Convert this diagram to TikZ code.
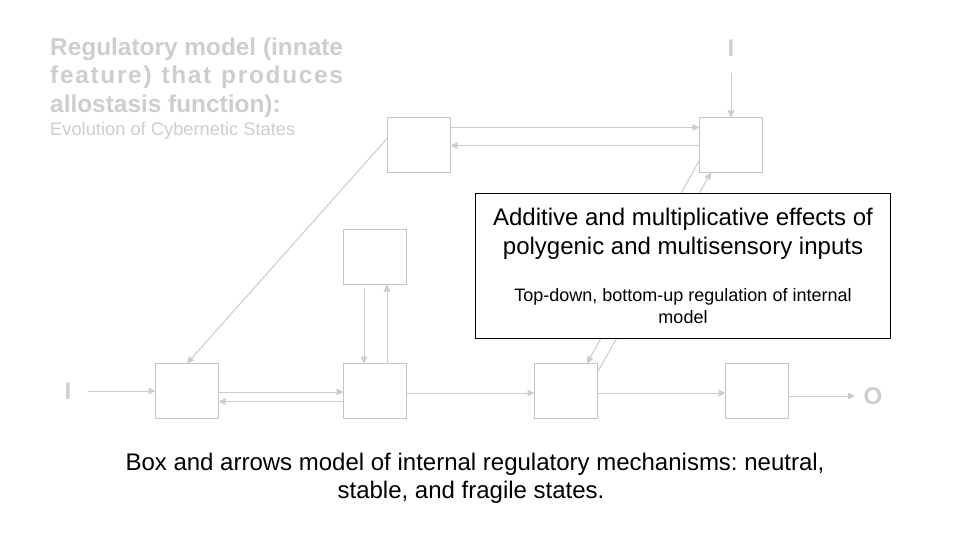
\documentclass[tikz,border=0pt]{standalone}
\usepackage{fontspec}
\setmainfont{Liberation Sans}
\usetikzlibrary{arrows.meta,calc}
\definecolor{boxgray}{RGB}{196,196,196}
\definecolor{linegray}{RGB}{204,204,204}
\definecolor{txtgray}{RGB}{206,206,206}
\newlength{\titlew}
\frenchspacing
\begin{document}
\begin{tikzpicture}[x=1pt,y=-1pt,
  blk/.style={draw=boxgray,line width=1pt,minimum width=63pt,minimum height=55pt,inner sep=0pt,outer sep=0pt},
  arr/.style={draw=linegray,line width=1pt,-{Triangle[length=7pt,width=6.5pt]}},
  ttl/.style={anchor=base west,inner sep=0pt,text=txtgray,font=\bfseries\fontsize{24.4}{28}\selectfont},
  sub/.style={anchor=base west,inner sep=0pt,text=txtgray,font=\fontsize{18.3}{21}\selectfont},
  io/.style={anchor=base,inner sep=0pt,text=txtgray,font=\bfseries\fontsize{24}{28}\selectfont},
  big/.style={anchor=base,inner sep=0pt,text=black,font=\fontsize{24}{28}\selectfont},
  small/.style={anchor=base,inner sep=0pt,text=black,font=\fontsize{18}{21}\selectfont}]
\useasboundingbox (0,0) rectangle (960,540);
\fill[white] (0,0) rectangle (960,540);

% title
\node[ttl] (t1) at (50,55.5) {\settowidth{\titlew}{Regulatory model (innate}Regulatory model (innate};
\node[ttl] (t2) at (50,84) {\settowidth{\titlew}{Regulatory model (innate}\makebox[\titlew][s]{\addfontfeatures{LetterSpace=7}feature) that produces}};
\node[ttl] (t3) at (50,112.5) {allostasis function):};
\node[sub] (t4) at (50,136) {Evolution of Cybernetic States};

% boxes
\node[blk] (tl) at (419,145) {};
\node[blk] (tr) at (731,145) {};
\node[blk] (mu) at (375,257) {};
\node[blk] (b1) at (187,391) {};
\node[blk] (b2) at (375,391) {};
\node[blk] (b3) at (566,391) {};
\node[blk] (b4) at (757,391) {};

% inputs / output
\node[io] (inl) at (68,399.5) {I};
\node[io] (intop) at (731,56.5) {I};
\node[io] (outr) at (873,404.5) {O};
\coordinate (inls) at (88,391);
\coordinate (intops) at (731,72.7);
\coordinate (outre) at (855,396);

% connectors
\draw[arr] (inls) -- (inls -| b1.west);
\draw[arr] ($(b1.east)+(0,1)$) -- ($(b2.west)+(0,1)$);
\draw[arr] ($(b2.west)+(0,10.5)$) -- ($(b1.east)+(0,10.5)$);
\draw[arr] ($(b2.east)+(0,2)$) -- ($(b3.west)+(0,2)$);
\draw[arr] ($(b3.east)+(0,2)$) -- ($(b4.west)+(0,2)$);
\draw[arr] ($(b4.east)+(0,5)$) -- (outre);
\draw[arr] ($(mu.south)+(-11,3)$) -- ($(b2.north)+(-11,0)$);
\draw[arr] ($(b2.north)+(12,0)$) -- ($(mu.south)+(12,0)$);
\draw[arr] ($(tl.east)+(0,-17.5)$) -- ($(tr.west)+(0,-17.5)$);
\draw[arr] ($(tr.west)+(0,0.5)$) -- ($(tl.east)+(0,0.5)$);
\draw[arr] (intops) -- (tr.north);
\draw[arr] ($(tl.west)+(0,-7)$) -- (b1.north);
\draw[arr] ($(tr.west)+(0,15)$) -- ($(b3.north)+(21,0)$);
\draw[arr] ($(b3.east)+(0,-19)$) -- ($(tr.south)+(-20,0)$);

% callout
\node[draw=black,line width=1pt,fill=white,minimum width=415pt,minimum height=145pt,inner sep=0pt] (callout) at (683,266) {};
\node[big] (c1) at (683,225.5) {Additive and multiplicative effects of};
\node[big] (c2) at (683,254) {polygenic and multisensory inputs};
\node[small] (c3) at (683,301.5) {Top-down, bottom-up regulation of internal};
\node[small] (c4) at (683,323) {model};

% caption
\node[big] (cap1) at (475,470.5) {Box and arrows model of internal regulatory mechanisms: neutral,};
\node[big] (cap2) at (471,498.5) {stable, and fragile states.};
\end{tikzpicture}
\end{document}
